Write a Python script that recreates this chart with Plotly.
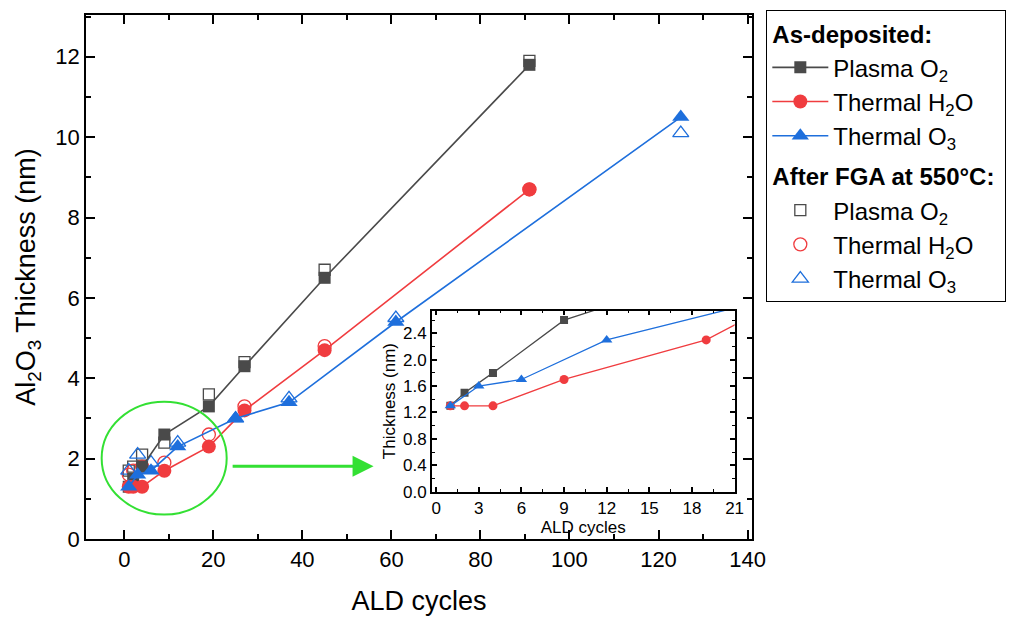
import plotly.graph_objects as go

# ---------------- data ----------------
cycles_plasma = [1, 2, 4, 9, 19, 27, 45, 91]
asdep_plasma = [1.3, 1.5, 1.8, 2.6, 3.3, 4.3, 6.5, 11.8]
fga_plasma = [1.7, 1.8, 2.1, 2.4, 3.6, 4.4, 6.7, 11.9]

cycles_h2o = [1, 2, 4, 9, 19, 27, 45, 91]
asdep_h2o = [1.3, 1.3, 1.3, 1.7, 2.3, 3.2, 4.7, 8.7]
fga_h2o = [1.6, 1.7, 1.8, 1.9, 2.6, 3.3, 4.8, 8.7]

cycles_o3 = [1, 3, 6, 12, 25, 37, 61, 125]
asdep_o3 = [1.3, 1.6, 1.7, 2.3, 3.0, 3.4, 5.4, 10.5]
fga_o3 = [1.7, 2.1, 1.9, 2.4, 3.0, 3.5, 5.5, 10.1]

names = ["Plasma O<sub>2</sub>", "Thermal H<sub>2</sub>O", "Thermal O<sub>3</sub>"]
# --------------------------------------

C_BLACK = "#4a4a4a"
C_RED = "#f03c3f"
C_BLUE = "#1e6fdc"
GREEN = "#33e033"
FONT = "Liberation Sans, Arial, sans-serif"
LEG_SIZE = 24

series = [
    (cycles_plasma, asdep_plasma, fga_plasma, C_BLACK, "square", 12, 8),
    (cycles_h2o, asdep_h2o, fga_h2o, C_RED, "circle", 14, 9),
    (cycles_o3, asdep_o3, fga_o3, C_BLUE, "triangle-up", 15, 10),
]

fig = go.Figure()

# open markers (after FGA) drawn first so filled ones sit on top
for i, (cx, ya, yf, col, sym, sz, isz) in enumerate(series):
    fig.add_trace(go.Scatter(
        x=cx, y=yf, mode="markers", name=names[i],
        marker=dict(symbol=sym + "-open", size=sz - 1, color=col,
                    line=dict(width=1.3, color=col)),
        legendgroup="fga", legendrank=10 + i,
        legendgrouptitle=dict(text="<b>After FGA at 550°C:</b>",
                              font=dict(size=LEG_SIZE, family=FONT, color="black")),
    ))

for i, (cx, ya, yf, col, sym, sz, isz) in enumerate(series):
    fig.add_trace(go.Scatter(
        x=cx, y=ya, mode="lines+markers", name=names[i],
        line=dict(color=col, width=1.6),
        marker=dict(symbol=sym, size=sz, color=col),
        legendgroup="asdep", legendrank=1 + i,
        legendgrouptitle=dict(text="<b>As-deposited:</b>",
                              font=dict(size=LEG_SIZE, family=FONT, color="black")),
    ))

# inset
for i, (cx, ya, yf, col, sym, sz, isz) in enumerate(series):
    fig.add_trace(go.Scatter(
        x=cx, y=ya, mode="lines+markers", showlegend=False,
        line=dict(color=col, width=1.3),
        marker=dict(symbol=sym, size=isz, color=col),
        xaxis="x2", yaxis="y2",
    ))

axis_common = dict(showline=True, linecolor="black", linewidth=1.5, mirror="ticks",
                   ticks="inside", tickcolor="black", tickwidth=1.5,
                   showgrid=False, zeroline=False)

fig.update_layout(
    width=1017, height=621,
    margin=dict(l=86, r=265, t=10, b=80),
    paper_bgcolor="white", plot_bgcolor="white",
    font=dict(family=FONT, color="black"),
    xaxis=dict(**axis_common, domain=[0, 1], range=[-8.6, 141], tick0=0, dtick=20,
               ticklen=9, minor=dict(ticks="inside", ticklen=5, dtick=10, tickwidth=1.5, tickcolor="black"),
               tickfont=dict(size=22),
               title=dict(text="ALD cycles", font=dict(size=27), standoff=20)),
    yaxis=dict(**axis_common, domain=[0, 1], range=[0, 13.04], tick0=0, dtick=2,
               ticklen=9, minor=dict(ticks="inside", ticklen=5, dtick=1, tickwidth=1.5, tickcolor="black"),
               tickfont=dict(size=22),
               title=dict(text="Al<sub>2</sub>O<sub>3</sub> Thickness (nm)", font=dict(size=27), standoff=12)),
    xaxis2=dict(**axis_common, domain=[0.5193, 0.9739], anchor="y2", range=[-0.3, 21],
                tick0=0, dtick=3, ticklen=5,
                minor=dict(ticks="inside", ticklen=3, dtick=1.5, tickwidth=1.2, tickcolor="black"),
                tickfont=dict(size=17),
                title=dict(text="ALD cycles", font=dict(size=17), standoff=0)),
    yaxis2=dict(**axis_common, domain=[0.0904, 0.436], anchor="x2", range=[0, 2.745],
                tick0=0, dtick=0.4, tickformat=".1f", ticklen=5,
                minor=dict(ticks="inside", ticklen=3, dtick=0.2, tickwidth=1.2, tickcolor="black"),
                tickfont=dict(size=17),
                title=dict(text="Thickness (nm)", font=dict(size=17), standoff=3)),
    legend=dict(x=1.0215, y=1.0094, xanchor="left", yanchor="top",
                bordercolor="black", borderwidth=1, bgcolor="white",
                font=dict(size=LEG_SIZE, family=FONT, color="black"),
                tracegroupgap=6, itemwidth=56),
    shapes=[dict(type="circle", xref="x", yref="y", x0=-5.08, x1=23.0, y0=0.607, y1=3.415,
                 line=dict(color=GREEN, width=2))],
    annotations=[dict(x=56, y=1.81, ax=24, ay=1.81, xref="x", yref="y", axref="x", ayref="y",
                      text="", showarrow=True, arrowhead=2, arrowsize=1.4, arrowwidth=3,
                      arrowcolor=GREEN)],
)

fig.write_html("out.html")
